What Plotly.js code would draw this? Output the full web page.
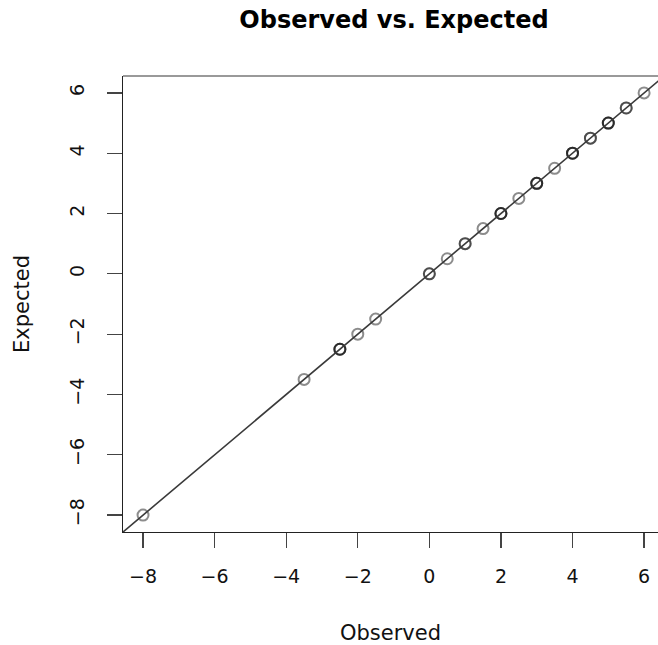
<!DOCTYPE html>
<html>
<head>
<meta charset="utf-8">
<script src="https://cdn.plot.ly/plotly-3.0.1.min.js"></script>
<style>html,body{margin:0;padding:0;background:#fff;overflow:hidden;}</style>
</head>
<body>
<div id="chart" style="width:658px;height:645px;"></div>
<script>
// Observed values (duplicates give darker circles through overlapping transparency)
var observed = [-8, -3.5, -2.5, -2.5, -2.5, -2, -1.5, 0, 0, 0.5, 1, 1, 1.5,
                2, 2, 2, 2.5, 3, 3, 3, 3.5, 4, 4, 4, 4.5, 4.5, 5, 5, 5, 5.5, 5.5, 6];
var expected = [-8, -3.5, -2.5, -2.5, -2.5, -2, -1.5, 0, 0, 0.5, 1, 1, 1.5,
                2, 2, 2, 2.5, 3, 3, 3, 3.5, 4, 4, 4, 4.5, 4.5, 5, 5, 5, 5.5, 5.5, 6];
var xTicks = [-8, -6, -4, -2, 0, 2, 4, 6];
var yTicks = [-8, -6, -4, -2, 0, 2, 4, 6];
var ablineIntercept = 0;
var ablineSlope = 1;
var ablineX = [-20, 20];
var ablineY = ablineX.map(function (v) { return ablineIntercept + ablineSlope * v; });

var traces = [
  {
    x: observed, y: expected, type: 'scatter', mode: 'markers',
    marker: {symbol: 'circle-open', size: 11, color: 'rgba(0,0,0,0.45)',
             line: {width: 2, color: 'rgba(0,0,0,0.45)'}},
    hoverinfo: 'skip', showlegend: false
  },
  {
    x: ablineX, y: ablineY, type: 'scatter', mode: 'lines',
    line: {color: '#3a3a3a', width: 1.6},
    hoverinfo: 'skip', showlegend: false
  }
];

var tickFont = {family: 'DejaVu Sans, Arial, sans-serif', size: 19, color: '#111'};
var layout = {
  width: 658, height: 645,
  margin: {l: 123, r: 0, t: 76, b: 113, pad: 0},
  paper_bgcolor: '#fff', plot_bgcolor: '#fff',
  showlegend: false,
  title: {
    text: '<b>Observed vs. Expected</b>',
    font: {family: 'DejaVu Sans, Arial, sans-serif', size: 24, color: '#000'},
    xref: 'container', x: 394 / 658, xanchor: 'center',
    yref: 'container', y: 1 - 20 / 645, yanchor: 'middle'
  },
  xaxis: {
    range: [-8.56, -8.56 + 535 / 35.79],
    tickvals: xTicks, ticktext: xTicks.map(function (v) { return v < 0 ? '\u2212' + Math.abs(v) : String(v); }),
    ticks: 'outside', ticklen: 15, tickwidth: 1.3, tickcolor: '#444',
    showline: true, linecolor: '#222', linewidth: 1.3,
    showgrid: false, zeroline: false,
    tickfont: tickFont, ticklabelstandoff: 12,
    title: {text: 'Observed', font: {family: 'DejaVu Sans, Arial, sans-serif', size: 21, color: '#111'}, standoff: 40}
  },
  yaxis: {
    range: [-8.56, 6.56],
    tickvals: yTicks, ticktext: yTicks.map(function (v) { return v < 0 ? '\u2212' + Math.abs(v) : String(v); }),
    tickangle: -90,
    ticks: 'outside', ticklen: 15, tickwidth: 1.3, tickcolor: '#444',
    showline: true, linecolor: '#222', linewidth: 1.3,
    showgrid: false, zeroline: false,
    tickfont: tickFont, ticklabelstandoff: 15,
    title: {text: 'Expected', font: {family: 'DejaVu Sans, Arial, sans-serif', size: 21, color: '#111'}, standoff: 30}
  },
  shapes: [
    {type: 'line', xref: 'paper', yref: 'paper', x0: 0, x1: 1, y0: 1, y1: 1,
     line: {color: '#777', width: 1.5}, layer: 'above'}
  ]
};

Plotly.newPlot('chart', traces, layout, {staticPlot: true, displayModeBar: false});
</script>
</body>
</html>
